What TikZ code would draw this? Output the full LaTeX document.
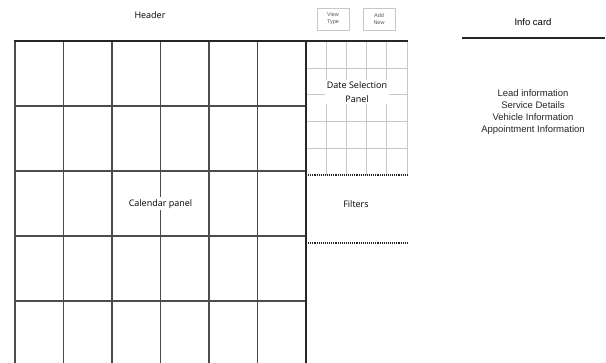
\documentclass[tikz,border=0pt]{standalone}
\usepackage{fontspec}
\setmainfont{Open Sans}
\newfontfamily\arialfont{Liberation Sans}
\usetikzlibrary{positioning}

\begin{document}
\begin{tikzpicture}[x=1pt,y=-1pt,font=\fontsize{9}{11}\selectfont,
  calline/.style={draw=black!70,line width=1.3pt},
  selline/.style={draw=black!22,line width=0.8pt},
  heavy/.style={draw=black!85,line width=2.2pt},
  dotline/.style={draw=black!85,line width=1.1pt,densely dotted},
  btn/.style={draw=black!22,minimum width=32pt,minimum height=22pt,inner sep=1pt,align=center,text=black!65,font=\arialfont\fontsize{5.5}{7}\selectfont},
  info/.style={font=\arialfont\fontsize{9.5}{10}\selectfont,inner sep=1pt,text=black!85}
]
  \useasboundingbox (0,0) rectangle (606,363);

  % calendar grid
  \foreach \x in {15,63.5,112,160.5,209,257.5} \draw[calline] (\x,41) -- (\x,363);
  \foreach \y in {106,171,236,301} \draw[calline] (15,\y) -- (306,\y);

  % date selection grid
  \foreach \x in {326.2,346.4,366.6,386.8} \draw[selline] (\x,41) -- (\x,175);
  \foreach \y in {68,94.5,121,148} \draw[selline] (306,\y) -- (407,\y);
  \draw[selline] (407,41) -- (407,175);

  \draw[dotline] (306,175) -- (407,175);
  \draw[dotline] (306,243) -- (407,243);

  \draw[heavy] (14,41) -- (408,41);
  \draw[heavy] (306,41) -- (306,363);
  \draw[heavy] (462,38) -- (605,38);

  % texts
  \node (header) at (150,15) {Header};
  \node[btn] (viewtype) at (333,19) {View\\Type};
  \node[btn] (addnew) at (379,19) {Add\\New};
  \node[font=\arialfont\fontsize{9.5}{10}\selectfont] (infocard) at (533,22) {Info card};

  \node[fill=white,inner sep=2pt] (calpanel) at (160.5,204) {Calendar panel};
  \node[fill=white,inner sep=1.5pt,align=center] (datesel) at (357,92) {Date Selection\\[3pt]Panel};
  \node (filters) at (356,204) {Filters};

  \node[info] (lead) at (533,93) {Lead information};
  \node[info,below=2.5pt of lead] (service) {Service Details};
  \node[info,below=2.5pt of service] (vehicle) {Vehicle Information};
  \node[info,below=2.5pt of vehicle] (appt) {Appointment Information};
\end{tikzpicture}
\end{document}
